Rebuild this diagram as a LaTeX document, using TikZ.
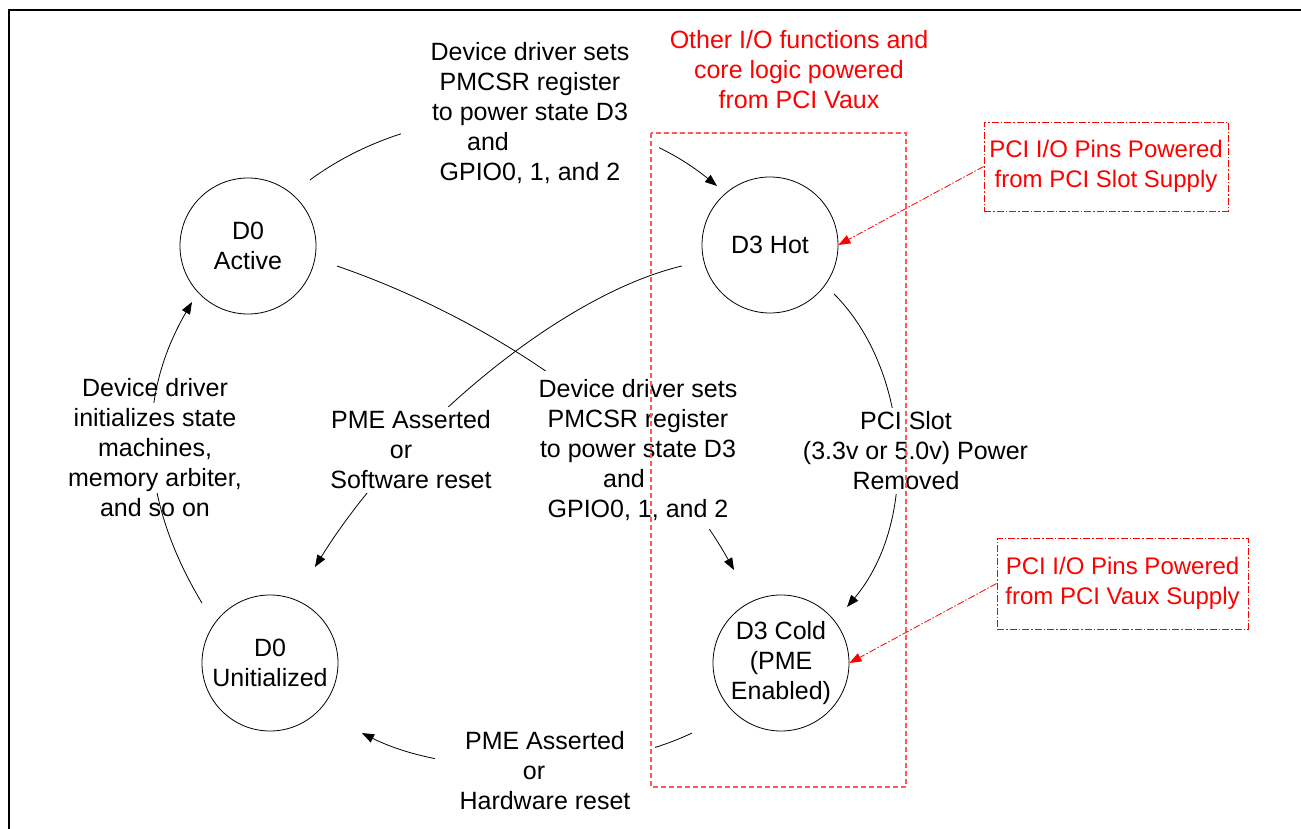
\documentclass[tikz,border=0pt]{standalone}
\usepackage{fontspec}
\setmainfont{Liberation Sans}
\usetikzlibrary{arrows.meta,calc}
\begin{document}
\begin{tikzpicture}[x=1pt,y=1pt,
  every node/.style={font=\fontsize{25pt}{30pt}\selectfont},
  state/.style={circle, draw, line width=0.8pt, minimum size=136pt, inner sep=0pt, align=center},
  lbl/.style={align=center, fill=white, inner sep=4pt},
  conn/.style={line width=0.8pt, -{Triangle[length=12pt,width=9pt]}},
  vaux/.style={draw=red!65, line width=1.2pt, dash pattern=on 5pt off 3pt},
  callout/.style={draw=red, line width=0.8pt, dash pattern=on 7pt off 2pt on 1.5pt off 2pt, text=red, align=center, font=\fontsize{24pt}{30.5pt}\selectfont},
  leader/.style={draw=red, line width=0.8pt, dash pattern=on 7pt off 2pt on 1.5pt off 2pt, -{Triangle[length=12pt,width=9pt]}}
]
\path[use as bounding box] (0,0) rectangle (1301,-829);
\draw[line width=2pt] (9,-829) -- (9,-10) -- (1301,-10);

% states
\node[state] (d0a) at (248,-246) {D0\\Active};
\node[state] (d3h) at (770,-245) {D3 Hot};
\node[state] (d0u) at (270,-663) {D0\\Unitialized};
\node[state] (d3c) at (781,-663) {D3 Cold\\(PME\\Enabled)};

% transitions
\draw[conn] ($(d0a)+(46.8:90.6)$) .. controls (425,-95) and (605,-95) .. ($(d3h)+(131.9:79.3)$);
\draw[conn] ($(d0a)+(-12.7:91.2)$) .. controls (480,-315) and (650,-420) .. ($(d3c)+(116.8:104.2)$);
\draw[conn] ($(d3h)+(193.4:90.5)$) .. controls (560,-295) and (400,-430) .. ($(d0u)+(64.9:106)$);
\draw[conn] ($(d0u)+(138.6:90.7)$) .. controls (140,-500) and (135,-400) .. ($(d0a)+(-135:79.2)$);
\draw[conn] ($(d3h)+(-37.4:80.6)$) .. controls (910,-370) and (920,-520) .. ($(d3c)+(40.3:86.6)$);
\draw[conn] ($(d3c)+(-141.8:113.2)$) .. controls (600,-777) and (450,-777) .. ($(d0u)+(-37.3:115.6)$);

% transition labels
\node[lbl, inner xsep=30pt] (ltop) at (530,-113) {Device driver sets\\PMCSR register\\to power state D3\\and\rule{84pt}{0pt}\\GPIO0, 1, and 2};
\node[lbl, inner sep=8pt] (lmid) at (638,-450) {Device driver sets\\PMCSR register\\to power state D3\\and\rule{28pt}{0pt}\\GPIO0, 1, and 2};
\node[lbl] (lpme) at (411,-450) {PME Asserted\\or\rule{20pt}{0pt}\\Software reset};
\node[lbl] (lslot) at (906,-451) {PCI Slot\\\hspace*{19pt}(3.3v or 5.0v) Power\\Removed};
\node[lbl, inner xsep=25pt] (lbot) at (545,-771) {PME Asserted\\or\rule{22pt}{0pt}\\Hardware reset};
\node[align=center, fill=white, inner xsep=2pt, inner ysep=-24pt] (lleft) at (155,-448) {Device driver\\initializes state\\machines,\\memory arbiter,\\and so on};

% Vaux region
\draw[vaux] (651,-133) rectangle (906,-787);
\node[text=red, align=center] (title) at (799,-70) {Other I/O functions and\\core logic powered\\from PCI Vaux};

% callouts
\node[callout, minimum width=244pt, minimum height=89pt] (cb1) at (1106,-166.5) {PCI I/O Pins Powered\\from PCI Slot Supply};
\node[callout, minimum width=251pt, minimum height=91pt] (cb2) at (1122.5,-583.5) {PCI I/O Pins Powered\\from PCI Vaux Supply};
\draw[leader] (cb1.west) -- (d3h.east);
\draw[leader] (cb2.west) -- (d3c.east);
\end{tikzpicture}
\end{document}
